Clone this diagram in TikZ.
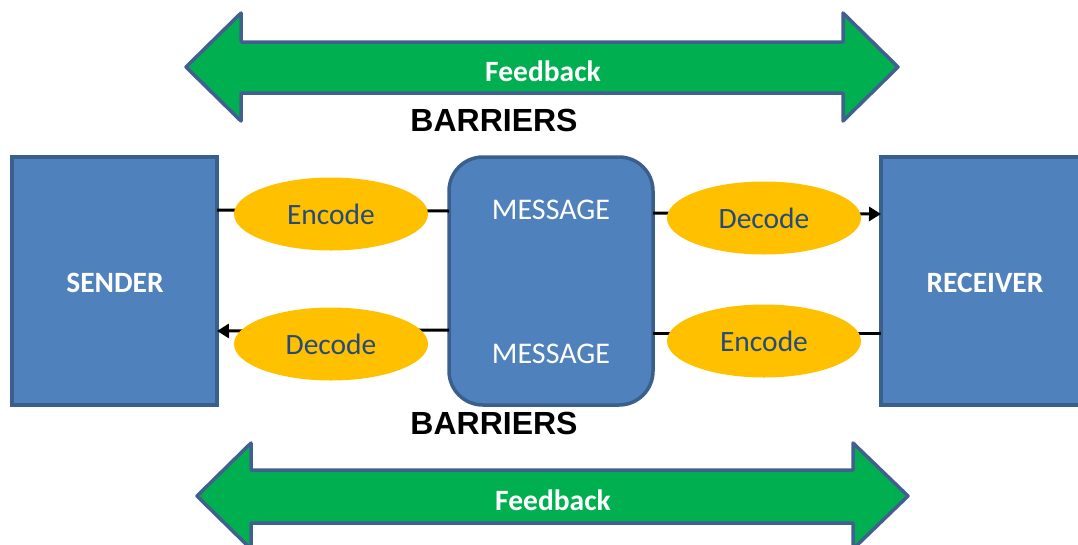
\documentclass[tikz,border=0pt]{standalone}
\usepackage{fontspec}
\setmainfont{Carlito}
\newfontfamily\arialfont{Liberation Sans}
\usetikzlibrary{arrows.meta}
\definecolor{boxblue}{HTML}{4F81BD}
\definecolor{boxedge}{HTML}{3A5F8C}
\definecolor{arrowgreen}{HTML}{00B050}
\definecolor{arrowedge}{HTML}{41608F}
\definecolor{ellfill}{HTML}{FFC000}
\definecolor{elltext}{HTML}{254B7C}
\tikzset{
  bigbox/.style={draw=boxedge, line width=3.5pt, fill=boxblue, inner sep=0pt},
  boxlabel/.style={text=white, font=\fontsize{29.5}{32}\selectfont\bfseries},
  msglabel/.style={text=white, font=\fontsize{30}{32}\selectfont},
  codeell/.style={ellipse, fill=ellfill, minimum width=194pt, minimum height=73pt, inner sep=0pt, text=elltext, font=\fontsize{29.5}{32}\selectfont},
  feedarrow/.style={draw=arrowedge, line width=3.5pt, fill=arrowgreen, line join=round},
  feedlabel/.style={text=white, font=\fontsize{29.5}{32}\selectfont\bfseries},
  barlabel/.style={text=black, font=\arialfont\fontsize{32}{35}\selectfont\bfseries},
  conn/.style={line width=3pt, black},
  connarrow/.style={conn, -{Triangle[length=12pt,width=14pt]}}
}
\usetikzlibrary{shapes.geometric}
\begin{document}
\begin{tikzpicture}[x=1pt,y=-1pt]
\useasboundingbox (0,0) rectangle (1078,544);
\clip (0,0) rectangle (1078,544);
% feedback arrows
\draw[feedarrow] (186,67) -- (241,13) -- (241,42) -- (843,42) -- (843,13) -- (898,67) -- (843,121) -- (843,93) -- (241,93) -- (241,121) -- cycle;
\node[feedlabel] (fb1) at (543,71) {Feedback};
\draw[feedarrow] (197,496) -- (251,443) -- (251,470) -- (853,470) -- (853,443) -- (908,496) -- (853,549) -- (853,523) -- (251,523) -- (251,549) -- cycle;
\node[feedlabel] (fb2) at (553,500) {Feedback};
\node[barlabel] (bar1) at (494,120) {BARRIERS};
\node[barlabel] (bar2) at (494,423) {BARRIERS};
% boxes
\draw[bigbox] (12,157) rectangle (217,405);
\node[boxlabel] (sender) at (115,283) {SENDER};
\draw[bigbox] (881,157) rectangle (1095,405);
\node[boxlabel] (receiver) at (985,283) {RECEIVER};
\draw[bigbox, rounded corners=34pt] (449,157) rectangle (653,405);
\node[msglabel] (msg1) at (551,210) {MESSAGE};
\node[msglabel] (msg2) at (551,354) {MESSAGE};
% connector end points
\coordinate (sR1) at (217,210);
\coordinate (sR2) at (217,331);
\coordinate (mL1) at (449,211);
\coordinate (mL2) at (449,330);
\coordinate (mR1) at (653,213);
\coordinate (mR2) at (653,333);
\coordinate (rL1) at (881,214);
\coordinate (rL2) at (881,333);
\draw[conn] (sR1) -- (mL1);
\draw[connarrow] (mR1) -- (rL1);
\draw[connarrow] (mL2) -- (sR2);
\draw[conn] (rL2) -- (mR2);
% ellipses
\node[codeell] (enc1) at (331,214) {Encode};
\node[codeell] (dec1) at (764,218) {Decode};
\node[codeell] (dec2) at (331,344) {Decode};
\node[codeell] (enc2) at (764,341) {Encode};
\end{tikzpicture}
\end{document}
